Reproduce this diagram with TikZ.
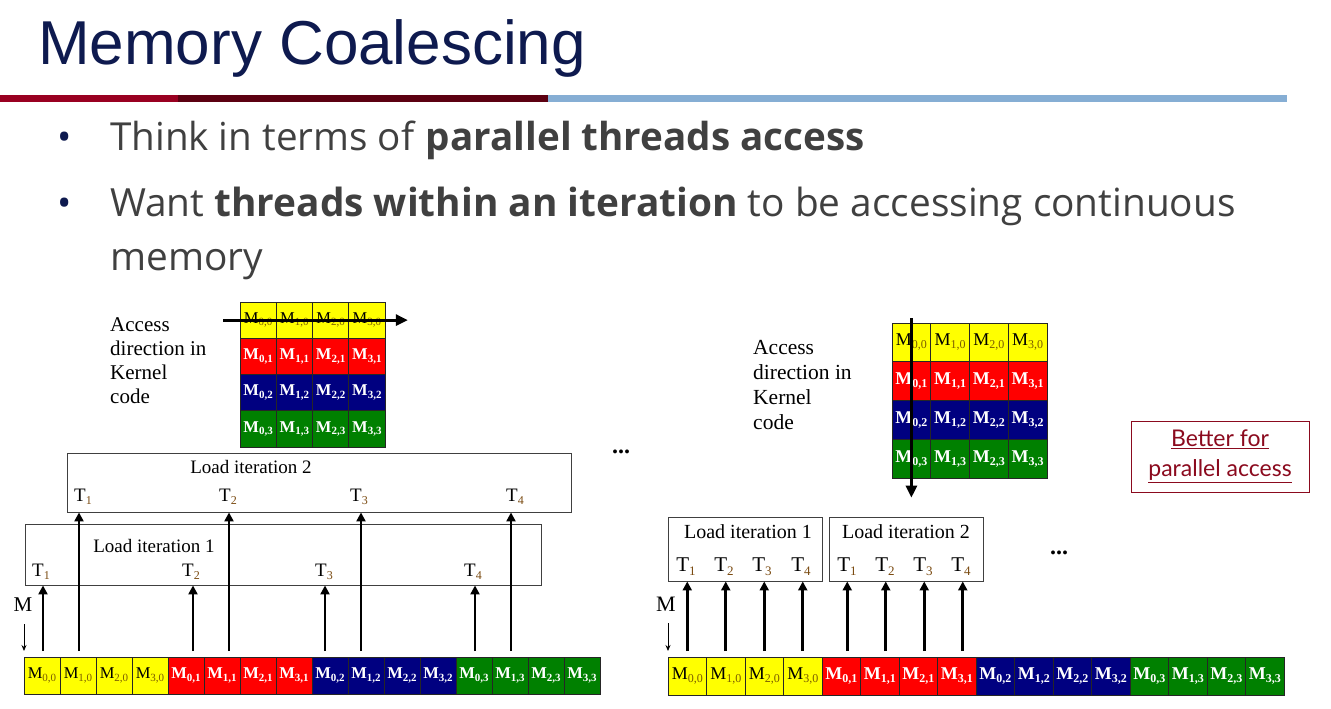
\documentclass[tikz,border=0pt]{standalone}
\usepackage{fontspec}
\setmainfont{Liberation Serif}
\newfontfamily\titlefont{Liberation Sans}
\newfontfamily\bodyfont{Open Sans}
\newfontfamily\notefont{Lato}
\usetikzlibrary{arrows.meta}
\definecolor{titleblue}{HTML}{0E1A4F}
\definecolor{barred}{HTML}{990021}
\definecolor{bardark}{HTML}{5C0011}
\definecolor{barblue}{HTML}{86AED4}
\definecolor{bodygray}{HTML}{404040}
\definecolor{bulletblue}{HTML}{0E1A4F}
\definecolor{cyellow}{HTML}{FFFF00}
\definecolor{cred}{HTML}{FF0000}
\definecolor{cnavy}{HTML}{000080}
\definecolor{cgreen}{HTML}{008000}
\definecolor{subolive}{HTML}{7A5C00}
\definecolor{tsubcol}{HTML}{7A4A10}
\definecolor{notered}{HTML}{8B0A1E}
\def\subcol{black}
\def\cellbf{}
\newcommand\mlab[2]{{\cellbf M\raisebox{-.35ex}{\fontsize{#2}{#2}\selectfont\color{\subcol}#1}}}
\newcommand\tlab[2]{T\raisebox{-.4ex}{\fontsize{#2}{#2}\selectfont\color{tsubcol}#1}}
\tikzset{
  cell/.style={draw=black!85, line width=0.8pt, inner sep=0pt, outer sep=0pt},
  rowcol0/.style={fill=cyellow, text=black, execute at begin node={\def\subcol{subolive}\def\cellbf{}}},
  rowcol1/.style={fill=cred, text=white, execute at begin node={\def\subcol{white}\def\cellbf{\bfseries}}},
  rowcol2/.style={fill=cnavy, text=white, execute at begin node={\def\subcol{white}\def\cellbf{\bfseries}}},
  rowcol3/.style={fill=cgreen, text=white, execute at begin node={\def\subcol{white}\def\cellbf{\bfseries}}},
  iterbox/.style={draw=black!75, line width=0.9pt, inner sep=0pt},
  itertext/.style={inner sep=0pt},
  tnode/.style={inner sep=0pt},
  uparr/.style={line width=2.7pt, -{Triangle[length=9pt,width=9pt]}, shorten <=6pt},
  bigarr/.style={line width=2.8pt, -{Triangle[length=12pt,width=11pt]}},
  thinarr/.style={line width=0.8pt, -{Stealth[length=6pt,width=5pt]}},
  accesstext/.style={align=left, inner sep=0pt, anchor=north west},
}
\begin{document}
\begin{tikzpicture}[x=1pt,y=-1pt]
\useasboundingbox (0,0) rectangle (1331,709);
\fill[white] (0,0) rectangle (1331,709);
% title and bars
\node[anchor=base west, inner sep=0pt, text=titleblue, font=\titlefont\fontsize{62}{62}\selectfont] (title) at (38,65) {Memory Coalescing};
\fill[barred] (0,95) rectangle (178,102);
\fill[bardark] (178,95) rectangle (548,102);
\fill[barblue] (548,95) rectangle (1287,102);
% bullets
\node[anchor=base west, inner sep=0pt, text=bulletblue, font=\bodyfont\fontsize{38}{38}\selectfont] (bul1) at (57,150) {•};
\node[anchor=base west, inner sep=0pt, text=bulletblue, font=\bodyfont\fontsize{38}{38}\selectfont] (bul2) at (57,216) {•};
\node[anchor=base west, inner sep=0pt, text=bodygray, font=\bodyfont\fontsize{38.6}{38.6}\selectfont] (line1) at (110,150) {Think in terms of \textbf{parallel threads access}};
\node[anchor=base west, inner sep=0pt, text=bodygray, font=\bodyfont\fontsize{38.8}{38.8}\selectfont] (line2) at (110,216) {Want \textbf{threads within an iteration} to be accessing continuous};
\node[anchor=base west, inner sep=0pt, text=bodygray, font=\bodyfont\fontsize{38.8}{38.8}\selectfont] (line3) at (110,270) {memory};

% ===== left diagram =====
\node[accesstext, font=\fontsize{21}{24}\selectfont] (accL) at (110,317) {Access\\direction in\\Kernel\\code};
\foreach \i in {0,...,3}{
  \foreach \j in {0,...,3}{
    \node[cell, rowcol\j, minimum width=36.25pt, minimum height=36.25pt, font=\fontsize{16.5}{16.5}\selectfont] (lm\i\j) at ({258.1+36.25*\i},{320.1+36.25*\j}) {\mlab{\i,\j}{11}};
  }
}
\draw[bigarr] ([xshift=-35pt]lm00.center) -- ([xshift=41pt]lm30.center);
\node[font=\bfseries\fontsize{24}{24}\selectfont, inner sep=0pt] (dotsL) at (621,452) {...};

\node[iterbox, minimum width=504pt, minimum height=59pt] (lb2) at (319,482.5) {};
\node[iterbox, minimum width=516pt, minimum height=61pt, fill=white] (lb1) at (283,554.5) {};
\node[itertext, font=\fontsize{19}{19}\selectfont] (lb2t) at (251,467) {Load iteration 2};
\node[itertext, font=\fontsize{19}{19}\selectfont] (lb1t) at (154,546) {Load iteration 1};
\foreach \n/\x in {1/83,2/228,3/359,4/515}{
  \node[tnode, font=\fontsize{19}{19}\selectfont] (lb2T\n) at (\x,497) {\tlab{\n}{12}};
}
\foreach \n/\x in {1/41,2/191,3/324,4/473}{
  \node[tnode, font=\fontsize{19}{19}\selectfont] (lb1T\n) at (\x,572) {\tlab{\n}{12}};
}
\foreach \k in {0,...,15}{
  \pgfmathtruncatemacro\jj{int(\k/4)}
  \pgfmathtruncatemacro\ii{mod(\k,4)}
  \node[cell, rowcol\jj, minimum width=36pt, minimum height=37pt, font=\fontsize{16.5}{16.5}\selectfont] (lr\k) at ({42+36*\k},675.5) {\mlab{\ii,\jj}{11}};
}
\foreach \k/\s in {0/1,4/7,8/-5,12/1}{
  \draw[uparr] ([xshift=\s pt]lr\k.north) -- ([xshift=\s pt]lr\k.north |- lb1.south);
}
\foreach \k/\s in {1/1,5/7,9/-5,13/1}{
  \draw[uparr] ([xshift=\s pt]lr\k.north) -- ([xshift=\s pt]lr\k.north |- lb2.south);
}
\node[inner sep=0pt, font=\fontsize{21}{21}\selectfont] (mL) at (23,605) {M};
\draw[thinarr] ([xshift=1pt,yshift=-12pt]mL.south) -- ([xshift=1pt]mL.south |- lr0.north) [shorten >=6pt];

% ===== right diagram =====
\node[accesstext, font=\fontsize{21.5}{25}\selectfont] (accR) at (753,340) {Access\\direction in\\Kernel\\code};
\foreach \i in {0,...,3}{
  \foreach \j in {0,...,3}{
    \node[cell, rowcol\j, minimum width=38.75pt, minimum height=38.75pt, font=\fontsize{18}{18}\selectfont] (rm\i\j) at ({911.4+38.75*\i},{342.4+38.75*\j}) {\mlab{\i,\j}{12}};
  }
}
\draw[bigarr] ([yshift=24pt]rm00.center) -- ([yshift=-39pt]rm03.center);

\node[iterbox, minimum width=154pt, minimum height=64pt] (rb1) at (745,549) {};
\node[iterbox, minimum width=154pt, minimum height=64pt] (rb2) at (906,549) {};
\node[itertext, font=\fontsize{20}{20}\selectfont] (rb1t) at (748,532) {Load iteration 1};
\node[itertext, font=\fontsize{20}{20}\selectfont] (rb2t) at (906,532) {Load iteration 2};
\foreach \n/\x in {1/686,2/724,3/762,4/801}{
  \node[tnode, font=\fontsize{21}{21}\selectfont] (rb1T\n) at (\x,567) {\tlab{\n}{13}};
}
\foreach \n/\x in {1/847,2/885,3/923,4/961}{
  \node[tnode, font=\fontsize{21}{21}\selectfont] (rb2T\n) at (\x,567) {\tlab{\n}{13}};
}
\node[font=\bfseries\fontsize{24}{24}\selectfont, inner sep=0pt] (dotsR) at (1059,553) {...};
\foreach \k in {0,...,15}{
  \pgfmathtruncatemacro\jj{int(\k/4)}
  \pgfmathtruncatemacro\ii{mod(\k,4)}
  \node[cell, rowcol\jj, minimum width=38.5pt, minimum height=38pt, font=\fontsize{18}{18}\selectfont] (rr\k) at ({687.25+38.5*\k},676) {\mlab{\ii,\jj}{12}};
}
\foreach \k/\s in {0/0,1/0,2/0,3/0}{
  \draw[uparr] ([xshift=\s pt]rr\k.north) -- ([xshift=\s pt]rr\k.north |- rb1.south);
}
\foreach \k/\s in {4/6,5/6,6/6,7/6}{
  \draw[uparr] ([xshift=\s pt]rr\k.north) -- ([xshift=\s pt]rr\k.north |- rb2.south);
}
\node[inner sep=0pt, font=\fontsize{22}{22}\selectfont] (mR) at (666,604) {M};
\draw[thinarr] ([xshift=2pt,yshift=-12pt]mR.south) -- ([xshift=2pt]mR.south |- rr0.north) [shorten >=6pt];

% note box
\node[draw=notered, line width=1pt, minimum width=178pt, minimum height=71pt, align=center, text=notered, font=\notefont\fontsize{23}{30}\selectfont] (note) at (1220,456.5) {\underline{Better for}\\\underline{parallel access}};
\end{tikzpicture}
\end{document}
